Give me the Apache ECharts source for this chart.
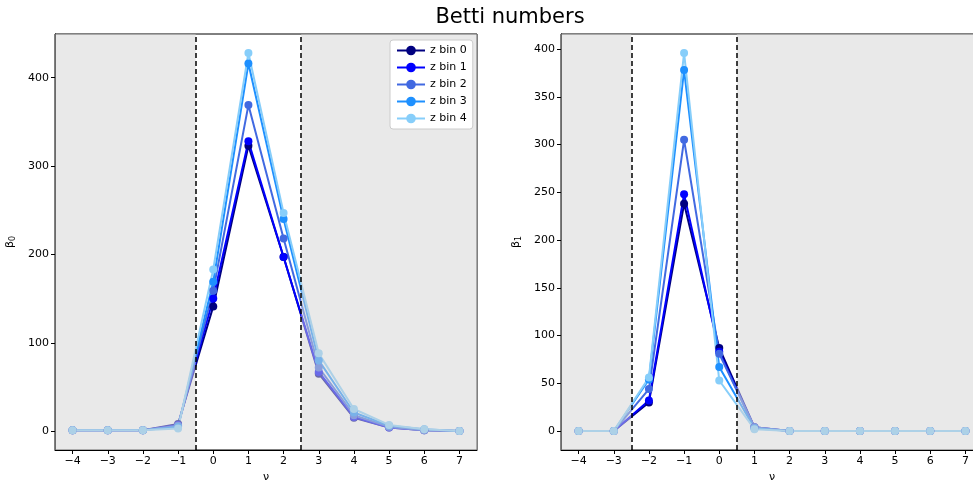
<!DOCTYPE html>
<html>
<head>
<meta charset="utf-8">
<script src="https://cdn.jsdelivr.net/npm/echarts@6/dist/echarts.min.js"></script>
<style>html,body{margin:0;padding:0;background:#fff;}#c{width:973px;height:486px;}</style>
</head>
<body>
<div id="c"></div>
<script>
const nu = [-4,-3,-2,-1,0,1,2,3,4,5,6,7];
const binNames = ['z bin 0','z bin 1','z bin 2','z bin 3','z bin 4'];
const binColors = ['#000080','#0000ff','#4169e1','#1e90ff','#87cefa'];
const beta0_bin0 = [1,1,1,8,141,323,197,65,15,4,1,0];
const beta0_bin1 = [1,1,1,7,150,328,197,67,16,4,1,0];
const beta0_bin2 = [1,1,1,6,159,369,218,72,18,5,1,0];
const beta0_bin3 = [1,1,1,5,169,416,240,80,21,6,2,0];
const beta0_bin4 = [1,1,1,3,183,428,247,88,25,7,2,0];
const beta1_bin0 = [0,0,30,238,87,4,0,0,0,0,0,0];
const beta1_bin1 = [0,0,32,248,83,4,0,0,0,0,0,0];
const beta1_bin2 = [0,0,44,305,81,4,0,0,0,0,0,0];
const beta1_bin3 = [0,0,54,378,67,3,0,0,0,0,0,0];
const beta1_bin4 = [0,0,56,396,53,2,0,0,0,0,0,0];
const beta0 = [beta0_bin0,beta0_bin1,beta0_bin2,beta0_bin3,beta0_bin4];
const beta1 = [beta1_bin0,beta1_bin1,beta1_bin2,beta1_bin3,beta1_bin4];
const window0 = [-0.5, 2.5];
const window1 = [-2.5, 0.5];
const xTicks = [-4,-3,-2,-1,0,1,2,3,4,5,6,7];
const yTicks0 = [0,100,200,300,400];
const yTicks1 = [0,50,100,150,200,250,300,350,400];

const font = 'DejaVu Sans';
const minus = v => String(v).replace('-', '\u2212');

function xAxis(gi){
  return {
    type:'value', gridIndex:gi, min:-4.5, max:7.5,
    name:'\u03bd', nameLocation:'middle', nameGap:22,
    nameTextStyle:{fontFamily:font,fontSize:11,color:'#000'},
    axisLine:{show:true,onZero:false,lineStyle:{color:'#000',width:1}},
    axisTick:{show:true,length:4,lineStyle:{color:'#000'},customValues:xTicks},
    axisLabel:{customValues:xTicks,formatter:minus,fontFamily:font,fontSize:11,color:'#000',margin:6},
    splitLine:{show:false}
  };
}
function yAxis(gi,min,max,ticks,sub){
  return {
    type:'value', gridIndex:gi, min:min, max:max,
    name:'{b|\u03b2}{s|'+sub+'}', nameLocation:'middle', nameGap:38, nameRotate:90,
    nameTextStyle:{rich:{b:{fontFamily:font,fontSize:11,color:'#000'},s:{fontFamily:font,fontSize:8,color:'#000',padding:[6,0,0,0]}}},
    axisLine:{show:true,onZero:false,lineStyle:{color:'#000',width:1}},
    axisTick:{show:true,length:4,lineStyle:{color:'#000'},customValues:ticks},
    axisLabel:{customValues:ticks,formatter:minus,fontFamily:font,fontSize:11,color:'#000',margin:6},
    splitLine:{show:false}
  };
}
const series = [];
function addPanel(gi, data, win){
  data.forEach((vals,i)=>{
    series.push({
      name:binNames[i], type:'line', xAxisIndex:gi, yAxisIndex:gi,
      data: nu.map((x,k)=>[x, vals[k]]),
      symbol:'circle', symbolSize:8, showSymbol:true,
      lineStyle:{color:binColors[i],width:2},
      itemStyle:{color:binColors[i]},
      z:2, animation:false
    });
  });
  series.push({
    type:'line', xAxisIndex:gi, yAxisIndex:gi, data:[], z:10, silent:true, animation:false,
    markArea:{silent:true, z:10, itemStyle:{color:'rgba(211,211,211,0.5)'},
      data:[[{xAxis:-4.5},{xAxis:win[0]}],[{xAxis:win[1]},{xAxis:7.5}]]},
    markLine:{silent:true, z:11, symbol:'none', label:{show:false},
      lineStyle:{color:'#000',type:[5,3],width:1.5},
      data:[{xAxis:win[0]},{xAxis:win[1]}]}
  });
}
addPanel(0, beta0, window0);
addPanel(1, beta1, window1);

const chart = echarts.init(document.getElementById('c'), null, {renderer:'canvas'});
chart.setOption({
  animation:false,
  backgroundColor:'#fff',
  title:{text:'Betti numbers', left:505, top:2, textAlign:'center',
    textStyle:{fontFamily:font,fontSize:21,fontWeight:'normal',color:'#000'}},
  legend:{
    data:binNames, orient:'vertical', left:390, top:40, z:20,
    backgroundColor:'#fff', borderColor:'#ccc', borderWidth:1, borderRadius:3,
    padding:[5,6,5,6], itemGap:6, itemWidth:28, itemHeight:12,
    textStyle:{fontFamily:font,fontSize:11,color:'#000'}
  },
  grid:[
    {left:55, top:34, width:422, height:416, show:true, borderColor:'#000', borderWidth:1, backgroundColor:'transparent', outerBoundsMode:'none', containLabel:false},
    {left:561, top:34, width:422, height:416, show:true, borderColor:'#000', borderWidth:1, backgroundColor:'transparent', outerBoundsMode:'none', containLabel:false}
  ],
  xAxis:[xAxis(0), xAxis(1)],
  yAxis:[yAxis(0,-21.4,449.5,yTicks0,'0'), yAxis(1,-19.8,415.8,yTicks1,'1')],
  series:series
});
</script>
</body>
</html>
